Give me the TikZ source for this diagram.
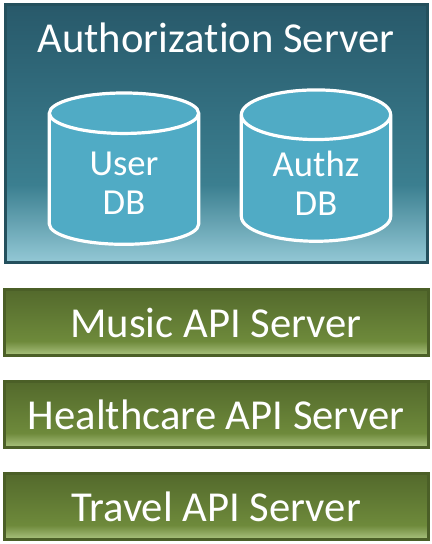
\documentclass[tikz,border=0pt]{standalone}
\usepackage{fontspec}
\setmainfont{Carlito}[Ligatures=NoCommon]
\usetikzlibrary{positioning,shapes.geometric}
\definecolor{authdark}{HTML}{28596A}
\definecolor{authmid}{HTML}{3B7F90}
\definecolor{authlight}{HTML}{93C8D5}
\definecolor{authline}{HTML}{24505D}
\definecolor{dbfill}{HTML}{50ABC5}
\definecolor{apidark}{HTML}{53692C}
\definecolor{apimid}{HTML}{6E8A3B}
\definecolor{apilight}{HTML}{ADC582}
\definecolor{apiline}{HTML}{4B5F27}
\pgfdeclareverticalshading{authshade}{100bp}{color(0bp)=(authlight); color(25bp)=(authlight); color(40bp)=(authmid); color(75bp)=(authdark); color(100bp)=(authdark)}
\pgfdeclareverticalshading{apishade}{100bp}{color(0bp)=(apilight); color(25bp)=(apilight); color(36bp)=(apimid); color(75bp)=(apidark); color(100bp)=(apidark)}
\tikzset{
  authbox/.style={rectangle,draw=authline,line width=2.25pt,shading=authshade,
    minimum width=316.5pt,minimum height=193.5pt},
  apibox/.style={rectangle,draw=apiline,line width=2.25pt,shading=apishade,
    minimum width=318pt,minimum height=50pt,text=white,font=\fontsize{32}{38}\selectfont},
  dbcyl/.style={cylinder,shape border rotate=90,aspect=0.52,draw=white,line width=2.4pt,
    fill=dbfill,minimum width=112pt,minimum height=113.5pt,text=white,align=center,
    font=\fontsize{27.5}{29}\selectfont}
}
\begin{document}
\begin{tikzpicture}[x=0.75pt,y=-0.75pt]
\useasboundingbox (0,0) rectangle (432,544);
\node[authbox] (auth) at (216,133) {};
\node[text=white,font=\fontsize{32}{38}\selectfont,below=12pt of auth.north] (title) {Authorization Server};
\node[dbcyl] (userdb) at (124,183) {User\\DB};
\node[dbcyl] (authzdb) at (316,183) {Authz\\DB};
\node[apibox] (music) at (216,322.5) {Music API Server};
\node[apibox] (health) at (216,414.5) {Healthcare API Server};
\node[apibox] (travel) at (216,506.5) {Travel API Server};
\end{tikzpicture}
\end{document}
